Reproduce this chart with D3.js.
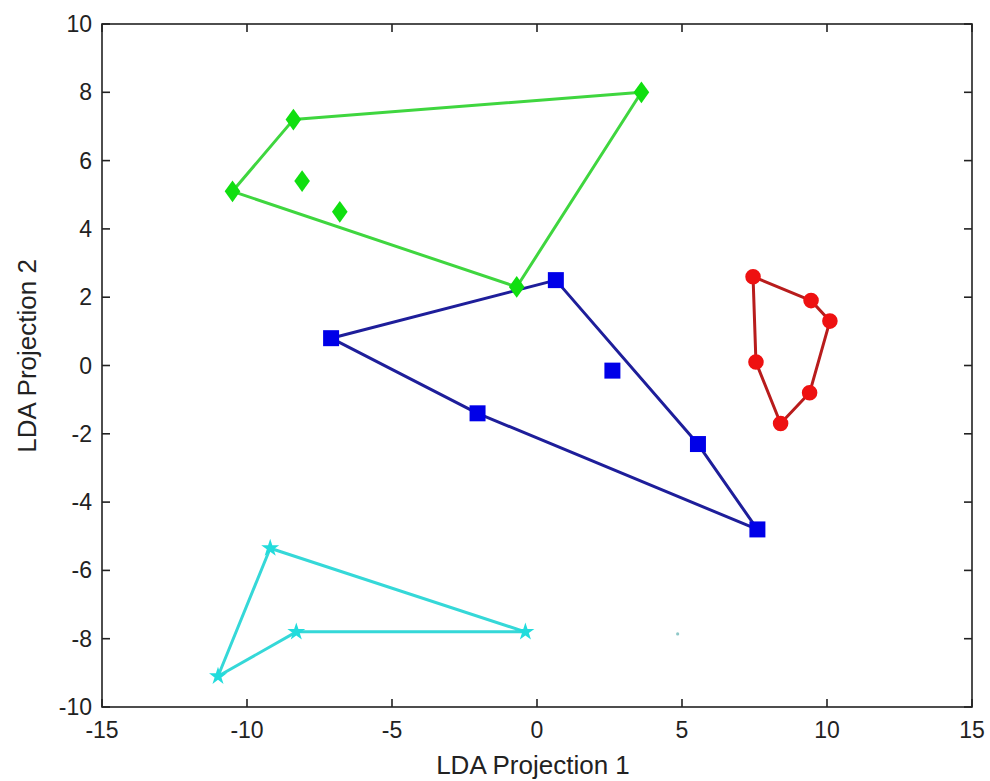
<!DOCTYPE html>
<html>
<head>
<meta charset="utf-8">
<script src="https://cdn.jsdelivr.net/npm/d3@7"></script>
<style>
  body { margin: 0; background: #fff; }
  text { font-family: 'Liberation Sans', Arial, sans-serif; fill: #222; }
</style>
</head>
<body>
<div id="chart"></div>
<script>
// point sets per class (LDA projection 1, LDA projection 2)
let greenPts = [[3.6, 8.0], [-8.4, 7.2], [-10.5, 5.1], [-8.1, 5.4], [-6.8, 4.5], [-0.7, 2.3]]
let greenHull = [[3.6, 8.0], [-8.4, 7.2], [-10.5, 5.1], [-0.7, 2.3], [3.6, 8.0]]

let bluePts = [[-7.1, 0.8], [0.65, 2.5], [2.6, -0.15], [-2.05, -1.4], [5.55, -2.3], [7.6, -4.8]]
let blueHull = [[-7.1, 0.8], [0.65, 2.5], [5.55, -2.3], [7.6, -4.8], [-2.05, -1.4], [-7.1, 0.8]]

let redPts = [[7.45, 2.6], [9.45, 1.9], [10.1, 1.3], [9.4, -0.8], [8.4, -1.7], [7.55, 0.1]]
let redHull = [[7.45, 2.6], [9.45, 1.9], [10.1, 1.3], [9.4, -0.8], [8.4, -1.7], [7.55, 0.1], [7.45, 2.6]]

let cyanPts = [[-9.2, -5.35], [-0.4, -7.8], [-8.3, -7.8], [-11.0, -9.1]]
let cyanHull = [[-9.2, -5.35], [-0.4, -7.8], [-8.3, -7.8], [-11.0, -9.1], [-9.2, -5.35]]

let strayPts = [[4.85, -7.86]]

let xTicks = [-15, -10, -5, 0, 5, 10, 15]
let yTicks = [-10, -8, -6, -4, -2, 0, 2, 4, 6, 8, 10]

let margin = { top: 24, left: 102, right: 18, bottom: 74 }
let width = 990 - margin.left - margin.right
let height = 781 - margin.top - margin.bottom

let svg = d3
  .select('#chart')
  .append('svg')
  .attr('width', 990)
  .attr('height', 781)
  .append('g')
  .attr('transform', 'translate(' + margin.left + ',' + margin.top + ')')

let x = d3.scaleLinear().domain([-15, 15]).range([0, width])
let y = d3.scaleLinear().domain([-10, 10]).range([height, 0])

let line = d3.line().x(d => x(d[0])).y(d => y(d[1]))

// diamond a bit wider than d3's default one, like matlab 'd'
let wideDiamond = {
  draw(ctx, size) {
    let h = Math.sqrt(size) * 0.75
    let w = h * 0.72
    ctx.moveTo(0, -h)
    ctx.lineTo(w, 0)
    ctx.lineTo(0, h)
    ctx.lineTo(-w, 0)
    ctx.closePath()
  }
}

let groups = [
  { hull: blueHull, pts: bluePts, line: '#1e1e9a', fill: '#0000e8', shape: d3.symbolSquare, size: 256 },
  { hull: greenHull, pts: greenPts, line: '#3fd63f', fill: '#10df10', shape: wideDiamond, size: 210 },
  { hull: redHull, pts: redPts, line: '#b81c1c', fill: '#ee1111', shape: d3.symbolCircle, size: 190 },
  { hull: cyanHull, pts: cyanPts, line: '#35d8d8', fill: '#22dcdc', shape: d3.symbolStar, size: 100 }
]

groups.forEach(g => {
  svg
    .append('path')
    .datum(g.hull)
    .attr('d', line)
    .attr('fill', 'none')
    .attr('stroke', g.line)
    .attr('stroke-width', 3)
    .attr('stroke-linejoin', 'round')

  svg
    .selectAll(null)
    .data(g.pts)
    .enter()
    .append('path')
    .attr('d', d3.symbol().type(g.shape).size(g.size))
    .attr('transform', d => `translate(${x(d[0])},${y(d[1])})`)
    .attr('fill', g.fill)
})

// little stray speck
svg
  .selectAll('.stray')
  .data(strayPts)
  .enter()
  .append('circle')
  .attr('class', 'stray')
  .attr('cx', d => x(d[0]))
  .attr('cy', d => y(d[1]))
  .attr('r', 1.6)
  .attr('fill', '#8fc8c8')

// box + inward ticks on all sides
svg
  .append('rect')
  .attr('width', width)
  .attr('height', height)
  .attr('fill', 'none')
  .attr('stroke', '#222')
  .attr('stroke-width', 1.6)

let tickLen = 8

xTicks.forEach(t => {
  svg.append('line')
    .attr('x1', x(t)).attr('x2', x(t))
    .attr('y1', height).attr('y2', height - tickLen)
    .attr('stroke', '#222').attr('stroke-width', 1.6)
  svg.append('line')
    .attr('x1', x(t)).attr('x2', x(t))
    .attr('y1', 0).attr('y2', tickLen)
    .attr('stroke', '#222').attr('stroke-width', 1.6)
  svg.append('text')
    .attr('x', x(t))
    .attr('y', height + 31)
    .attr('text-anchor', 'middle')
    .attr('font-size', 23)
    .text(t)
})

yTicks.forEach(t => {
  svg.append('line')
    .attr('x1', 0).attr('x2', tickLen)
    .attr('y1', y(t)).attr('y2', y(t))
    .attr('stroke', '#222').attr('stroke-width', 1.6)
  svg.append('line')
    .attr('x1', width).attr('x2', width - tickLen)
    .attr('y1', y(t)).attr('y2', y(t))
    .attr('stroke', '#222').attr('stroke-width', 1.6)
  svg.append('text')
    .attr('x', -10)
    .attr('y', y(t) + 8)
    .attr('text-anchor', 'end')
    .attr('font-size', 23)
    .text(t)
})

// axis titles
svg.append('text')
  .attr('x', x(0) - 4)
  .attr('y', height + 67)
  .attr('text-anchor', 'middle')
  .attr('font-size', 26)
  .text('LDA Projection 1')

svg.append('text')
  .attr('transform', 'translate(' + (36 - margin.left) + ',' + (356 - margin.top) + ') rotate(-90)')
  .attr('text-anchor', 'middle')
  .attr('font-size', 26)
  .text('LDA Projection 2')
</script>
</body>
</html>
